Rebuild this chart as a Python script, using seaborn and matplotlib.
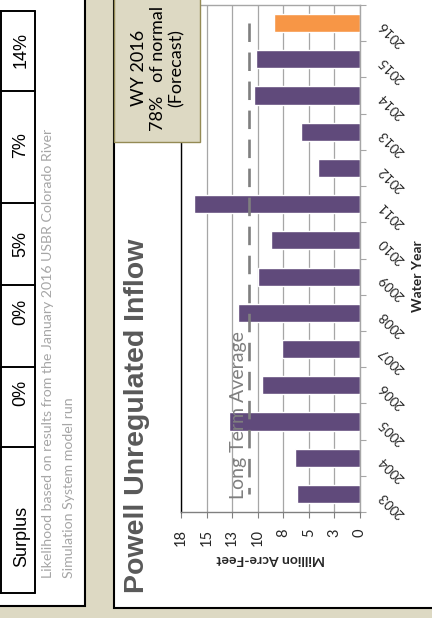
import numpy as np
import pandas as pd
import matplotlib.pyplot as plt
import matplotlib.patches as mpatches
from matplotlib.lines import Line2D
from matplotlib.ticker import FixedLocator
import seaborn as sns

# the slide is turned a quarter turn, so everything is drawn sideways
W, H = 432, 618

years = ["2003", "2004", "2005", "2006", "2007", "2008", "2009",
         "2010", "2011", "2012", "2013", "2014", "2015", "2016"]
inflow_maf = [6.2, 6.4, 12.8, 9.6, 7.6, 11.9, 10.0,
              8.7, 16.2, 4.1, 5.8, 10.4, 10.2, 8.4]
long_term_avg = 10.85
value_ticks = [0, 2.5, 5, 7.5, 10, 12.5, 15, 17.5]
value_tick_labels = ["0", "3", "5", "8", "10", "13", "15", "18"]

table_row_label = "Surplus"
table_values = ["0%", "0%", "5%", "7%", "14%"]
forecast_note = ["WY 2016", "78%   of normal", "(Forecast)"]
footnote = ["Likelihood based on results from the January 2016 USBR Colorado River",
            "Simulation System model run"]

PURPLE = "#604A7B"
ORANGE = "#F79646"
BEIGE = "#DDD9C3"


def fx(px):
    return px / W


def fy(py):
    return 1 - py / H


def main():
    sns.set_theme(style="white")
    plt.rcParams["font.family"] = ["Lato", "DejaVu Sans"]

    df = pd.DataFrame({"year": years, "inflow": inflow_maf})
    palette = {y: PURPLE for y in years}
    palette[years[-1]] = ORANGE

    fig = plt.figure(figsize=(W / 100, H / 100), dpi=100, facecolor=BEIGE)

    # white panels (left: table + note, right: chart)
    fig.add_artist(mpatches.Rectangle((fx(-5), fy(606)), fx(90), 611 / H,
                                      transform=fig.transFigure, facecolor="white",
                                      edgecolor="black", lw=1.5, zorder=-2))
    fig.add_artist(mpatches.Rectangle((fx(114), fy(608)), fx(330), 613 / H,
                                      transform=fig.transFigure, facecolor="white",
                                      edgecolor="black", lw=1.5, zorder=-2))

    # chart
    ax = fig.add_axes([fx(181), fy(512), fx(179), 507 / H])
    order = years[::-1]
    sns.barplot(data=df, x="inflow", y="year", hue="year", order=order,
                palette=palette, width=0.5, saturation=1, legend=False,
                orient="h", ax=ax, zorder=2)
    ax.plot(np.full(len(years), long_term_avg), np.arange(len(years)),
            color="#7F7F7F", lw=1.9, dashes=(7, 4), zorder=3)

    ax.set_xlim(value_ticks[-1], value_ticks[0])
    ax.set_ylim(len(years) - 0.5, -0.5)
    ax.set_xticks(value_ticks)
    ax.set_xticklabels(value_tick_labels, rotation=90, fontsize=10.5, color="#262626")
    ax.tick_params(axis="x", bottom=True, length=4, width=0.8, color="#808080", pad=8)
    ax.xaxis.grid(True, color="#A6A6A6", lw=0.9)
    ax.set_axisbelow(True)

    ax.yaxis.tick_right()
    ax.set_yticks(np.arange(len(years)))
    ax.set_yticklabels(order, rotation=135, rotation_mode="anchor",
                       ha="right", va="center", fontsize=9.5, color="#262626")
    ax.yaxis.set_minor_locator(FixedLocator(np.arange(len(years) + 1) - 0.5))
    ax.tick_params(axis="y", which="major", right=True, length=0, pad=15)
    ax.tick_params(axis="y", which="minor", right=True, length=4, width=0.8, color="#A6A6A6")

    ax.spines["left"].set_color("black")
    ax.spines["bottom"].set_color("#808080")
    ax.spines["right"].set_color("#A6A6A6")
    ax.spines["top"].set_color("#A6A6A6")
    for s in ax.spines.values():
        s.set_linewidth(1.0)

    ax.set_xlabel("Million Acre-Feet", rotation=180, fontsize=10,
                  fontweight="bold", color="#262626")
    ax.xaxis.label.set_ha("center")
    ax.xaxis.label.set_va("center")
    ax.xaxis.set_label_coords(0.5, (512 - 559) / 507)
    ax.set_ylabel("Water Year", rotation=90, fontsize=10,
                  fontweight="bold", color="#262626")
    ax.yaxis.set_label_position("right")
    ax.yaxis.label.set_ha("center")
    ax.yaxis.label.set_va("center")
    ax.yaxis.set_label_coords((418 - 181) / 179, (512 - 276) / 507)

    fig.text(fx(239), fy(499), "Long Term Average", rotation=90, ha="center",
             va="bottom", fontsize=14, color="#7F7F7F", zorder=5)

    # title
    fig.text(fx(137), fy(593), "Powell Unregulated Inflow", rotation=90,
             ha="center", va="bottom", fontsize=20.5, fontweight="bold",
             color="#595959", family="Liberation Sans")

    # forecast call-out box
    fig.add_artist(mpatches.Rectangle((fx(114), fy(142)), fx(86), 147 / H,
                                      transform=fig.transFigure, facecolor=BEIGE,
                                      edgecolor="#948A54", lw=1, zorder=3))
    fig.text(fx(158), fy(68), "\n".join(forecast_note), rotation=90,
             ha="center", va="center", multialignment="center",
             fontsize=13, color="black", zorder=4)

    # table (only the last row is on the page)
    cell_edges = [11, 91, 203, 285, 367, 447, 593]
    for e in cell_edges:
        fig.add_artist(Line2D([fx(-5), fx(35)], [fy(e), fy(e)], color="black",
                              lw=1.4, transform=fig.transFigure))
    for xe in [1, 35]:
        fig.add_artist(Line2D([fx(xe), fx(xe)], [fy(11), fy(593)], color="black",
                              lw=1.4, transform=fig.transFigure))
    value_centers = [393, 312, 244, 145, 50]
    for val, yc in zip(table_values, value_centers):
        fig.text(fx(21), fy(yc), val, rotation=90, ha="center", va="center",
                 fontsize=13, family="Liberation Sans", color="black")
    fig.text(fx(22), fy(567), table_row_label, rotation=90, ha="center",
             va="bottom", fontsize=13, family="Liberation Sans", color="black")

    # footnote
    for line, xc in zip(footnote, [48, 69]):
        fig.text(fx(xc), fy(578), line, rotation=90, ha="center", va="bottom",
                 fontsize=10.2, color="#A6A6A6")

    fig.savefig("out.png", dpi=100, facecolor=BEIGE)
    plt.close(fig)


if __name__ == "__main__":
    main()
